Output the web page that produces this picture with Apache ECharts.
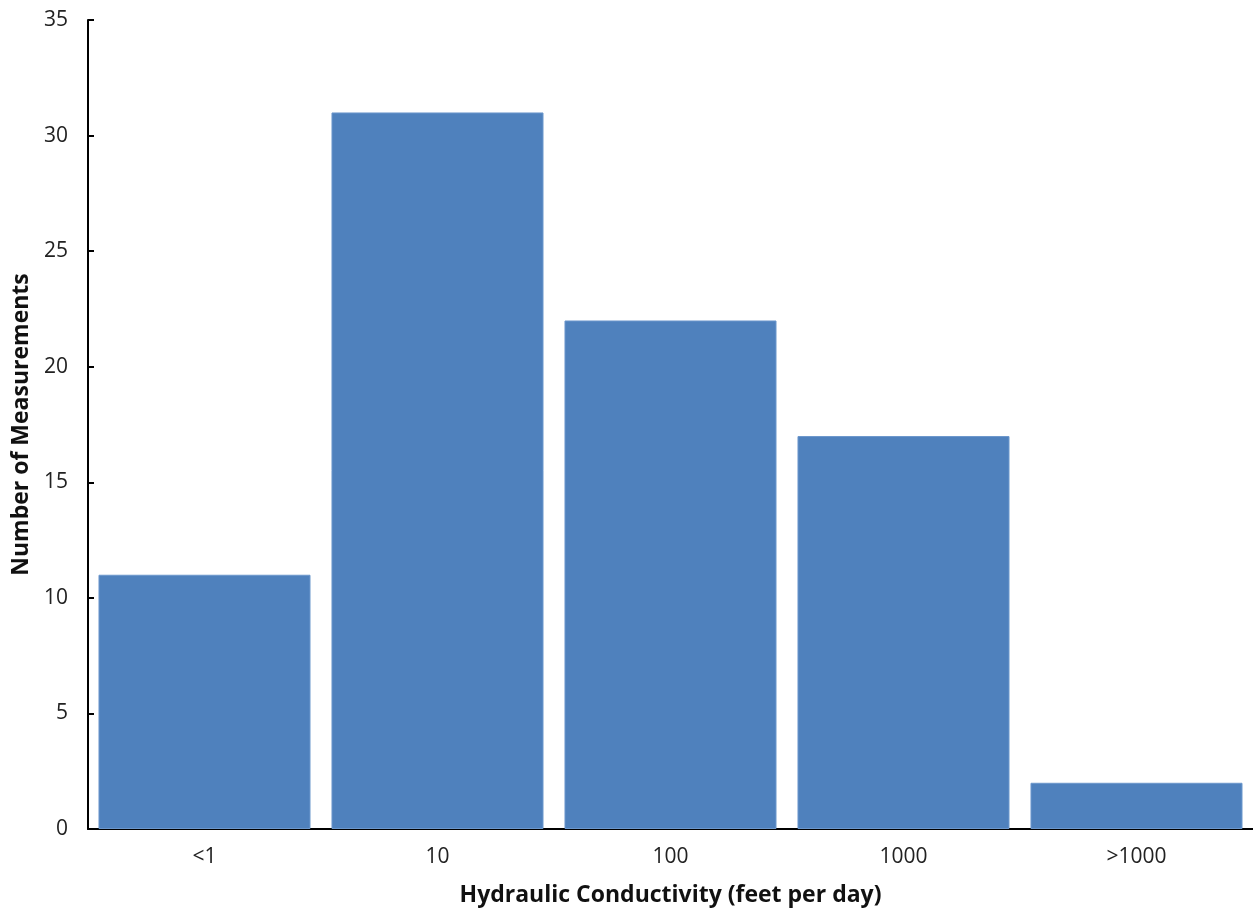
<!DOCTYPE html>
<html><head><meta charset="utf-8">
<script src="https://cdn.jsdelivr.net/npm/echarts@6/dist/echarts.min.js"></script>
<style>html,body{margin:0;padding:0;background:#fff}#c{width:1253px;height:914px}</style>
</head><body><div id="c"></div>
<script>
const categories = ['<1', '10', '100', '1000', '>1000'];
const counts = [11, 31, 22, 17, 2];
const yTicks = [0, 5, 10, 15, 20, 25, 30, 35];
const xTitle = 'Hydraulic Conductivity (feet per day)';
const yTitle = 'Number of Measurements';
const font = '"Open Sans", sans-serif';
const chart = echarts.init(document.getElementById('c'));
chart.setOption({
  animation: false,
  grid: {left: 88, right: 0, top: 20, bottom: 85, containLabel: false, outerBoundsMode: 'none'},
  xAxis: {
    type: 'category', data: categories,
    axisLine: {lineStyle: {color: '#000', width: 2}},
    axisTick: {show: false},
    axisLabel: {color: '#222', fontSize: 21, fontFamily: font, margin: 18},
    name: xTitle, nameLocation: 'middle', nameGap: 55,
    nameTextStyle: {color: '#111', fontSize: 23, fontWeight: 'bold', fontFamily: font}
  },
  yAxis: {
    type: 'value', min: yTicks[0], max: yTicks[yTicks.length - 1], interval: 5,
    axisLine: {show: true, lineStyle: {color: '#000', width: 2}},
    axisTick: {show: true, inside: true, length: 6, lineStyle: {color: '#000', width: 2}},
    splitLine: {show: false},
    axisLabel: {color: '#222', fontSize: 21, fontFamily: font, margin: 20},
    name: yTitle, nameLocation: 'middle', nameGap: 53,
    nameTextStyle: {color: '#111', fontSize: 23, fontWeight: 'bold', fontFamily: font}
  },
  series: [{
    type: 'bar', data: counts, barCategoryGap: '9%',
    itemStyle: {color: '#4F81BD', borderColor: '#6C97CC', borderWidth: 1}
  }]
});
</script></body></html>
